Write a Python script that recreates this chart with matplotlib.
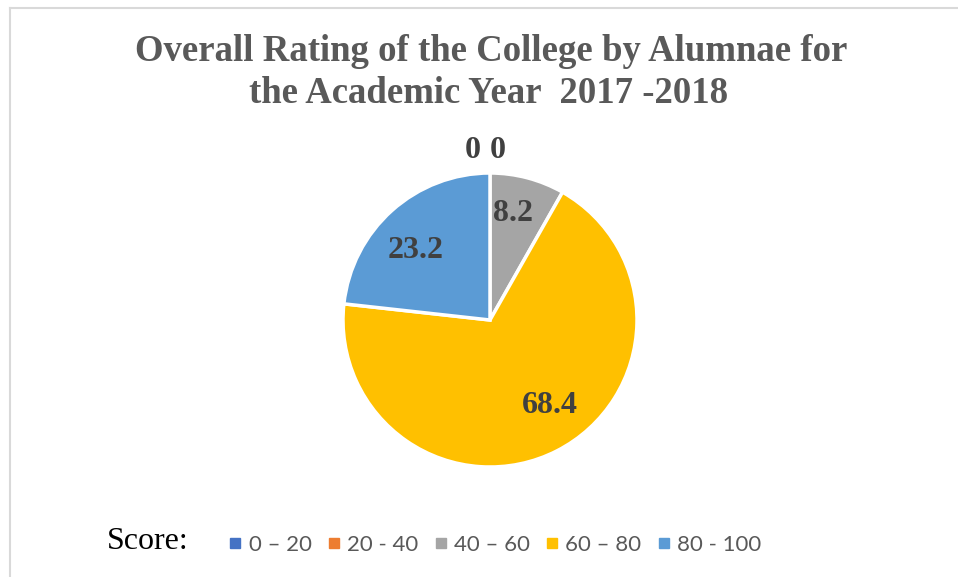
import numpy as np
import matplotlib
matplotlib.use("Agg")
import matplotlib.pyplot as plt
from matplotlib.lines import Line2D

# ---- data ----
categories = ["0 – 20", "20 - 40", "40 – 60", "60 – 80", "80 - 100"]
values = [0, 0, 8.2, 68.4, 23.2]
value_labels = ["0", "0", "8.2", "68.4", "23.2"]
colors = ["#4472C4", "#ED7D31", "#A5A5A5", "#FFC000", "#5B9BD5"]
title_lines = ["Overall Rating of the College by Alumnae for",
               "the Academic Year  2017 -2018"]
legend_title = "Score:"

W, H = 958, 577
fig = plt.figure(figsize=(W / 100, H / 100), dpi=100)
fig.patch.set_facecolor("white")

def fx(px):
    return px / W

def fy(py):
    return 1 - py / H

# frame lines (top and left visible)
fig.add_artist(Line2D([fx(9.5), 1.0], [fy(7.5), fy(7.5)], color="#D9D9D9", lw=1.5))
fig.add_artist(Line2D([fx(9.5), fx(9.5)], [fy(7.5), 0.0], color="#D9D9D9", lw=1.5))

# pie axes
cx, cy, R = 490, 320, 147
ax = fig.add_axes([fx(cx - R), fy(cy + R), 2 * R / W, 2 * R / H])
wedges, _ = ax.pie(values, colors=colors, startangle=90, counterclock=False,
                   radius=1.0, wedgeprops=dict(edgecolor="white", linewidth=2.5))
ax.set_xlim(-1, 1)
ax.set_ylim(-1, 1)
ax.set_axis_off()

# data labels
lab_fs = 23
lab_px = lab_fs * 100 / 72
half_digit = 0.34 * lab_px / R
tweak = {2: (0.76, 3.0), 3: (0.69, 9.0), 4: (0.71, 3.5)}
zero_dx = [-0.116, 0.054]
zi = 0
for i, (w, v, t) in enumerate(zip(wedges, values, value_labels)):
    mid = np.deg2rad((w.theta1 + w.theta2) / 2)
    if v == 0:
        x = np.cos(mid) * 1.177 + zero_dx[zi]
        y = np.sin(mid) * 1.177
        zi += 1
    else:
        r, da = tweak.get(i, (0.72, 0))
        ang = mid + np.deg2rad(da)
        x, y = r * np.cos(ang), r * np.sin(ang)
    ax.text(x, y - half_digit, t, ha="center", va="baseline",
            fontsize=lab_fs, fontweight="bold", family="Liberation Serif",
            color="#404040", clip_on=False)

# title
fig.text(fx(491), fy(61), title_lines[0], ha="center", va="baseline",
         fontsize=26.5, fontweight="bold", family="Liberation Serif", color="#595959")
fig.text(fx(489), fy(103), title_lines[1], ha="center", va="baseline",
         fontsize=26.5, fontweight="bold", family="Liberation Serif", color="#595959")

# legend title
fig.text(fx(107), fy(549), legend_title, ha="left", va="baseline",
         fontsize=23, family="Liberation Serif", color="black")

handles = [Line2D([], [], marker="s", ls="", color=c, markersize=6.5) for c in colors]
leg = fig.legend(handles, categories, loc="center", bbox_to_anchor=(fx(495), fy(545)),
                 ncol=5, frameon=False, handlelength=0.6, handletextpad=0.3,
                 columnspacing=0.7, borderpad=0, borderaxespad=0,
                 prop=dict(family="Lato", size=16))
for txt in leg.get_texts():
    txt.set_color("#595959")

fig.savefig("out.png", dpi=100)
